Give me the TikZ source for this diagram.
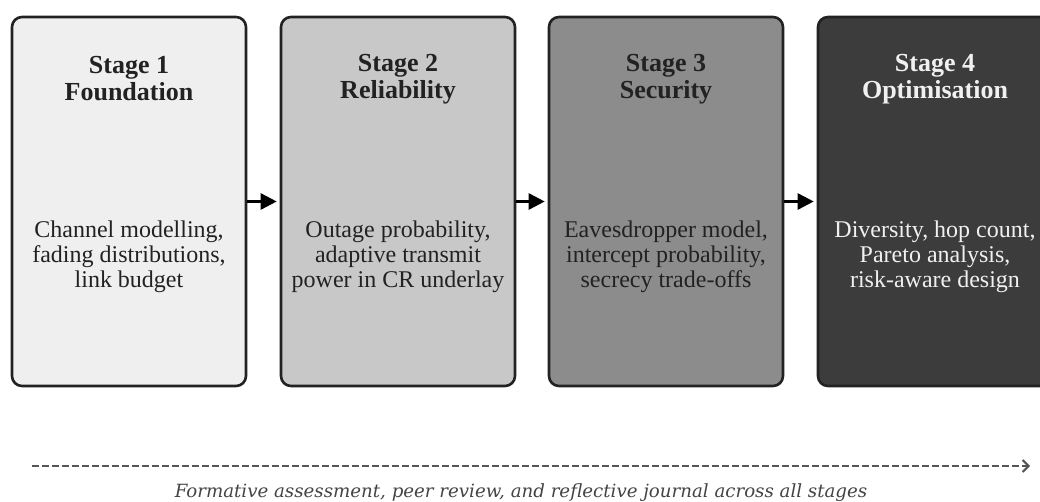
\documentclass[tikz,border=0pt]{standalone}
\usepackage{fontspec}
\setmainfont{Liberation Serif}
\newfontfamily\capfont{DejaVu Serif}
\usetikzlibrary{arrows.meta}
\definecolor{fillA}{HTML}{EFEFEF}
\definecolor{fillB}{HTML}{C8C8C8}
\definecolor{fillC}{HTML}{8C8C8C}
\definecolor{fillD}{HTML}{3C3C3C}
\definecolor{edgeC}{HTML}{222222}
\definecolor{txtD}{HTML}{222222}
\definecolor{txtL}{HTML}{F0F0F0}
\definecolor{dashC}{HTML}{555555}
\definecolor{capC}{HTML}{444444}
\tikzset{
  stagebox/.style={draw=edgeC, line width=2.6pt, rounded corners=10pt,
    minimum width=234pt, minimum height=369pt, inner sep=0pt},
  stagetitle/.style={align=center, inner sep=0pt,
    font=\fontsize{26}{27}\selectfont\bfseries},
  stagebody/.style={align=center, inner sep=0pt,
    font=\fontsize{24}{25}\selectfont},
  flowarrow/.style={line width=2.6pt, draw=black,
    -{Triangle[length=16pt,width=16pt]}, shorten >=3pt},
}
\begin{document}
\begin{tikzpicture}[x=1pt,y=-1pt]
\useasboundingbox (0,0) rectangle (1040,502);
\fill[white] (0,0) rectangle (1040,502);
% boxes
\node[stagebox, fill=fillA] (b1) at (129,201.5) {};
\node[stagebox, fill=fillB] (b2) at (398,201.5) {};
\node[stagebox, fill=fillC] (b3) at (666,201.5) {};
\node[stagebox, fill=fillD] (b4) at (935,201.5) {};
% titles
\node[stagetitle, text=txtD] (t1) at (129,79) {Stage 1\\Foundation};
\node[stagetitle, text=txtD] (t2) at (398,79) {Stage 2\\Reliability};
\node[stagetitle, text=txtD] (t3) at (666,79) {Stage 3\\Security};
\node[stagetitle, text=txtL] (t4) at (935,79) {Stage 4\\Optimisation};
% bodies
\node[stagebody, text=txtD] (d1) at (129,257) {Channel modelling,\\fading distributions,\\link budget};
\node[stagebody, text=txtD] (d2) at (398,257) {Outage probability,\\adaptive transmit\\power in CR underlay};
\node[stagebody, text=txtD] (d3) at (666,257) {Eavesdropper model,\\intercept probability,\\secrecy trade-offs};
\node[stagebody, text=txtL] (d4) at (935,257) {Diversity, hop count,\\Pareto analysis,\\risk-aware design};
% arrows
\draw[flowarrow] (b1.east) -- (b2.west);
\draw[flowarrow] (b2.east) -- (b3.west);
\draw[flowarrow] (b3.east) -- (b4.west);
% timeline
\coordinate (s) at (32,466);
\coordinate (e) at (1030,466);
\draw[dashC, line width=2.2pt, dash pattern=on 7pt off 3pt,
  -{Straight Barb[length=6pt,width=12pt,line width=2pt]}] (s) -- (e);
\node[anchor=base, inner sep=0pt, text=capC,
  font=\capfont\itshape\fontsize{18.2}{20}\selectfont] (cap) at (521,497)
  {Formative assessment, peer review, and reflective journal across all stages};
\end{tikzpicture}
\end{document}
